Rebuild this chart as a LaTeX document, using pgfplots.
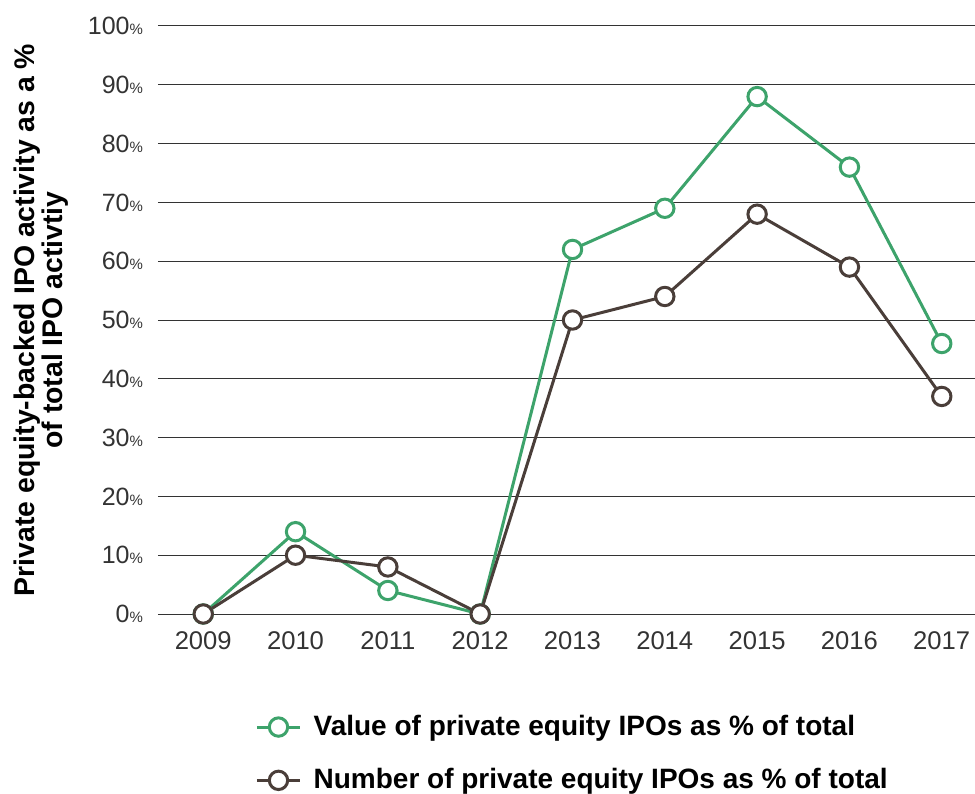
\documentclass[border=0pt]{standalone}
\usepackage{pgfplots}
\pgfplotsset{compat=1.18}
\usepackage{fontspec}
\setmainfont{Liberation Sans}
\definecolor{pegreen}{HTML}{3DA36B}
\definecolor{pebrown}{HTML}{4A3E39}
\definecolor{gridc}{HTML}{333333}
\begin{document}
\begin{tikzpicture}
\begin{axis}[
  scale only axis,
  width=408.5pt, height=294pt,
  xmin=2008.51, xmax=2017.36,
  ymin=0, ymax=100,
  clip=false,
  axis line style={draw=none},
  major tick length=0pt,
  ymajorgrids,
  grid style={gridc, line width=0.5pt},
  xtick={2009,...,2017},
  ytick={0,10,...,100},
  /pgf/number format/assume math mode=true,
  xticklabel style={/pgf/number format/1000 sep=, font=\fontsize{12.8}{14}\selectfont, text=gridc, yshift=-5.5pt},
  yticklabel={\pgfmathprintnumber{\tick}{\fontsize{7.5}{8}\selectfont\%}},
  yticklabel style={font=\fontsize{12.5}{14}\selectfont, text=gridc, xshift=-4pt},
  ylabel={Private equity-backed IPO activity as a \%\\of total IPO activtiy},
  ylabel style={at={(axis description cs:-0.1016,0.5)}, anchor=south, align=center, font=\bfseries\fontsize{14.2}{14}\selectfont},
  legend style={at={(axis description cs:0.1187,-0.165)}, anchor=north west, draw=none, fill=none, inner sep=0pt,
    font=\bfseries\fontsize{14}{16}\selectfont, row sep=11pt, cells={anchor=west},
    nodes={inner xsep=6pt}},
  legend image code/.code={\draw[mark repeat=2,mark phase=2] plot coordinates {(0cm,0cm) (0.38cm,0cm) (0.76cm,0cm)};},
  every axis plot/.append style={line width=1.5pt, mark size=4.6pt},
]
\addplot[pegreen, mark=*, mark options={fill=white, draw=pegreen}] coordinates {
  (2009,0) (2010,14) (2011,4) (2012,0) (2013,62) (2014,69) (2015,88) (2016,76) (2017,46)
};
\addplot[pebrown, mark=*, mark options={fill=white, draw=pebrown}] coordinates {
  (2009,0) (2010,10) (2011,8) (2012,0) (2013,50) (2014,54) (2015,68) (2016,59) (2017,37)
};
\legend{Value of private equity IPOs as \% of total, Number of private equity IPOs as \% of total}
\end{axis}
\pgfresetboundingbox
\path[use as bounding box] (-79pt,-89.5pt) rectangle (408.5pt,307pt);
\end{tikzpicture}
\end{document}
